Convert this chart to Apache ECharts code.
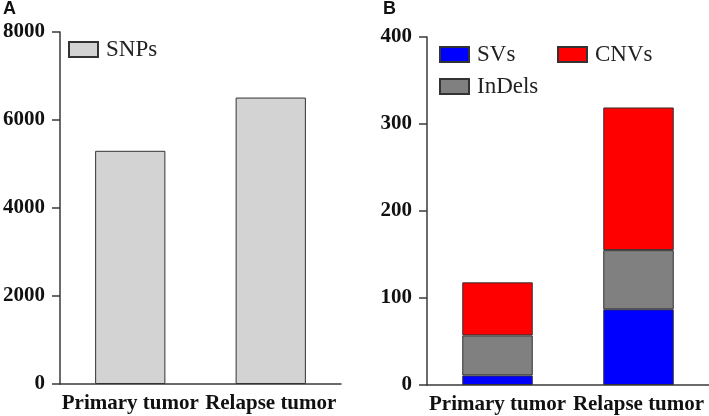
<!DOCTYPE html>
<html>
<head>
<meta charset="utf-8">
<script src="https://cdn.jsdelivr.net/npm/echarts@6/dist/echarts.min.js"></script>
<style>
html,body{margin:0;padding:0;background:#fff;}
#chart{width:709px;height:416px;}
</style>
</head>
<body>
<div id="chart"></div>
<script>
const categories = ['Primary tumor', 'Relapse tumor'];
const snps = [5300, 6510];
const svs = [11, 87];
const indels = [46, 68];
const cnvs = [61, 164];
const ticksA = { min: 0, max: 8000, interval: 2000 };
const ticksB = { min: 0, max: 400, interval: 100 };

const serif = 'Liberation Serif';
const axisCol = '#3a3a3a';
const borderCol = '#333333';

function xAxis(gridIndex) {
  return {
    type: 'category', gridIndex: gridIndex, data: categories,
    axisLine: { lineStyle: { color: axisCol, width: 1.5 } },
    axisTick: { show: false },
    axisLabel: { interval: 0, hideOverlap: false, color: '#111', fontFamily: serif, fontWeight: 'bold', fontSize: 21, margin: 9 }
  };
}
function yAxis(gridIndex, t) {
  return {
    type: 'value', gridIndex: gridIndex, min: t.min, max: t.max, interval: t.interval,
    splitLine: { show: false },
    axisLine: { show: true, lineStyle: { color: axisCol, width: 1.5 } },
    axisTick: { show: true, length: 8, lineStyle: { color: axisCol, width: 1.5 } },
    axisLabel: { color: '#111', fontFamily: serif, fontWeight: 'bold', fontSize: 21, margin: 15,
      formatter: (v) => String(v) }
  };
}
function legend(name, left, top) {
  return {
    data: [name], left: left, top: top, orient: 'horizontal',
    itemWidth: 29, itemHeight: 15, padding: 0,
    icon: 'rect',
    textStyle: { fontFamily: serif, fontSize: 23, color: '#222', padding: [0, 0, 0, 3] },
    selectedMode: false
  };
}
const bs = (color) => ({ color: color, borderColor: borderCol, borderWidth: 1 });

const chart = echarts.init(document.getElementById('chart'), null, { renderer: 'canvas' });
chart.setOption({
  animation: false,
  backgroundColor: '#fff',
  title: [
    { text: 'A', left: 3, top: 0, padding: 0, textStyle: { fontFamily: 'Liberation Sans', fontWeight: 'bold', fontSize: 18, color: '#111' } },
    { text: 'B', left: 383, top: 0, padding: 0, textStyle: { fontFamily: 'Liberation Sans', fontWeight: 'bold', fontSize: 18, color: '#111' } }
  ],
  legend: [
    legend('SNPs', 68, 38),
    legend('SVs', 439, 43),
    legend('CNVs', 557, 43),
    legend('InDels', 439, 75)
  ],
  grid: [
    { left: 56, right: 368, top: 32, bottom: 32 },
    { left: 427, right: 0, top: 37, bottom: 31 }
  ],
  xAxis: [xAxis(0), xAxis(1)],
  yAxis: [yAxis(0, ticksA), yAxis(1, ticksB)],
  series: [
    { name: 'SNPs', type: 'bar', xAxisIndex: 0, yAxisIndex: 0, data: snps, barWidth: '50%', itemStyle: bs('#d3d3d3') },
    { name: 'SVs', type: 'bar', stack: 'b', xAxisIndex: 1, yAxisIndex: 1, data: svs, barWidth: '50%', itemStyle: bs('#0000ff') },
    { name: 'InDels', type: 'bar', stack: 'b', xAxisIndex: 1, yAxisIndex: 1, data: indels, barWidth: '50%', itemStyle: bs('#808080') },
    { name: 'CNVs', type: 'bar', stack: 'b', xAxisIndex: 1, yAxisIndex: 1, data: cnvs, barWidth: '50%', itemStyle: bs('#ff0000') }
  ]
});
</script>
</body>
</html>
